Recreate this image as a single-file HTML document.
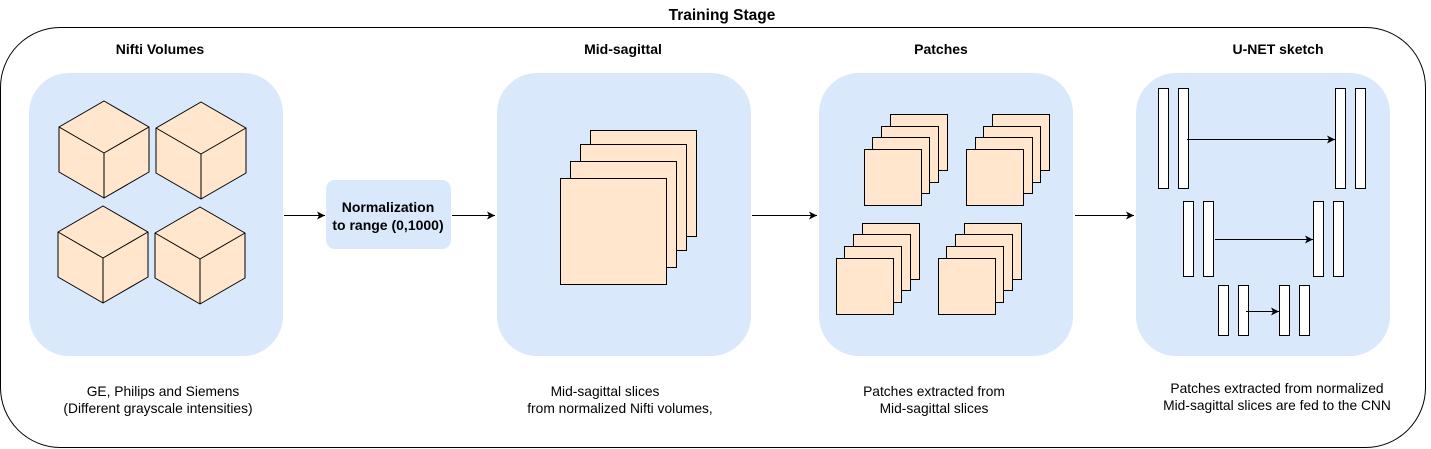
<!DOCTYPE html>
<html><head><meta charset="utf-8"><style>
html,body{margin:0;padding:0;background:#fff;}
svg{display:block;font-family:"Liberation Sans",Arial,sans-serif;}
</style></head><body>
<svg width="1431" height="449" viewBox="0 0 1431 449" xmlns="http://www.w3.org/2000/svg">
<defs>
<marker id="a" markerWidth="10" markerHeight="10" refX="8" refY="5" orient="auto" markerUnits="userSpaceOnUse">
<path d="M0,1 L8,5 L0,9 L2,5 Z" fill="#000"/>
</marker>
</defs>
<text x="722" y="20" font-size="15.5" font-weight="bold" text-anchor="middle">Training Stage</text>
<rect x="0.5" y="27.5" width="1425" height="420" rx="60" ry="60" fill="none" stroke="#000" stroke-width="1"/>

<g font-size="14" font-weight="bold" text-anchor="middle">
<text x="160" y="54">Nifti Volumes</text>
<text x="623" y="54">Mid-sagittal</text>
<text x="941" y="54">Patches</text>
<text x="1278" y="54">U-NET sketch</text>
</g>

<g fill="#dae8fc">
<rect x="29" y="73" width="254" height="283" rx="40"/>
<rect x="497" y="73" width="254" height="283" rx="40"/>
<rect x="819" y="73" width="254" height="283" rx="40"/>
<rect x="1136" y="73" width="254" height="283" rx="40"/>
<rect x="326" y="180" width="125" height="69" rx="9"/>
</g>
<text x="388" y="212" font-size="14" font-weight="bold" text-anchor="middle">Normalization</text>
<text x="388" y="230" font-size="14" font-weight="bold" text-anchor="middle">to range (0,1000)</text>

<!-- cubes -->
<g fill="#ffe6cc" stroke="#000" stroke-width="1" stroke-linejoin="round">
<g transform="translate(0,0)"><path d="M104,101 L149,127 L149,172 L104,198 L59,172 L59,127 Z"/><path d="M59,127 L104,153 L149,127 M104,153 L104,198" fill="none"/></g>
<g transform="translate(97,1)"><path d="M104,101 L149,127 L149,172 L104,198 L59,172 L59,127 Z"/><path d="M59,127 L104,153 L149,127 M104,153 L104,198" fill="none"/></g>
<g transform="translate(-1,105)"><path d="M104,101 L149,127 L149,172 L104,198 L59,172 L59,127 Z"/><path d="M59,127 L104,153 L149,127 M104,153 L104,198" fill="none"/></g>
<g transform="translate(96,106)"><path d="M104,101 L149,127 L149,172 L104,198 L59,172 L59,127 Z"/><path d="M59,127 L104,153 L149,127 M104,153 L104,198" fill="none"/></g>
</g>

<!-- mid-sagittal slices -->
<g fill="#ffe6cc" stroke="#000" stroke-width="1">
<rect x="590.5" y="130.5" width="106" height="106"/>
<rect x="580.5" y="144.5" width="106" height="106"/>
<rect x="570.5" y="161.5" width="106" height="106"/>
<rect x="560.5" y="178.5" width="106" height="106"/>
</g>

<!-- patches -->
<g fill="#ffe6cc" stroke="#000" stroke-width="1">
<rect x="890.5" y="114.5" width="57" height="56"/>
<rect x="881.5" y="126.5" width="57" height="56"/>
<rect x="872.5" y="137.5" width="57" height="56"/>
<rect x="864.5" y="149.5" width="57" height="56"/>

<rect x="992.5" y="114.5" width="57" height="56"/>
<rect x="983.5" y="126.5" width="57" height="56"/>
<rect x="975.5" y="137.5" width="57" height="56"/>
<rect x="966.5" y="149.5" width="57" height="56"/>

<rect x="862.5" y="223.5" width="57" height="56"/>
<rect x="853.5" y="234.5" width="57" height="56"/>
<rect x="844.5" y="246.5" width="57" height="56"/>
<rect x="836.5" y="258.5" width="57" height="56"/>

<rect x="964.5" y="223.5" width="57" height="56"/>
<rect x="955.5" y="234.5" width="57" height="56"/>
<rect x="946.5" y="246.5" width="57" height="56"/>
<rect x="938.5" y="258.5" width="57" height="56"/>
</g>

<!-- U-NET -->
<g fill="#fff" stroke="#000" stroke-width="1">
<rect x="1158.5" y="88.5" width="10" height="100"/>
<rect x="1178.5" y="88.5" width="10" height="100"/>
<rect x="1335.5" y="88.5" width="10" height="100"/>
<rect x="1355.5" y="88.5" width="10" height="100"/>

<rect x="1183.5" y="201.5" width="10" height="75"/>
<rect x="1203.5" y="201.5" width="10" height="75"/>
<rect x="1313.5" y="201.5" width="10" height="75"/>
<rect x="1333.5" y="201.5" width="10" height="75"/>

<rect x="1218.5" y="285.5" width="10" height="50"/>
<rect x="1238.5" y="285.5" width="10" height="50"/>
<rect x="1279.5" y="285.5" width="10" height="50"/>
<rect x="1299.5" y="285.5" width="10" height="50"/>
</g>
<g stroke="#000" stroke-width="1" fill="none">
<line x1="1187" y1="139.5" x2="1335" y2="139.5" marker-end="url(#a)"/>
<line x1="1215" y1="239.5" x2="1313" y2="239.5" marker-end="url(#a)"/>
<line x1="1246" y1="311.5" x2="1279" y2="311.5" marker-end="url(#a)"/>

<line x1="284" y1="215.5" x2="325" y2="215.5" marker-end="url(#a)"/>
<line x1="452" y1="215.5" x2="495" y2="215.5" marker-end="url(#a)"/>
<line x1="752" y1="215.5" x2="817" y2="215.5" marker-end="url(#a)"/>
<line x1="1075" y1="215.5" x2="1134" y2="215.5" marker-end="url(#a)"/>
</g>

<g font-size="13.8" text-anchor="middle" fill="#000">
<text x="163" y="396">GE, Philips and Siemens</text>
<text x="158" y="413">(Different grayscale intensities)</text>
<text x="605" y="396">Mid-sagittal slices</text>
<text x="620" y="413">from normalized Nifti volumes,</text>
<text x="934" y="396">Patches extracted from</text>
<text x="934" y="413">Mid-sagittal slices</text>
<text x="1277" y="393">Patches extracted from normalized</text>
<text x="1277" y="410">Mid-sagittal slices are fed to the CNN</text>
</g>
</svg>
</body></html>
